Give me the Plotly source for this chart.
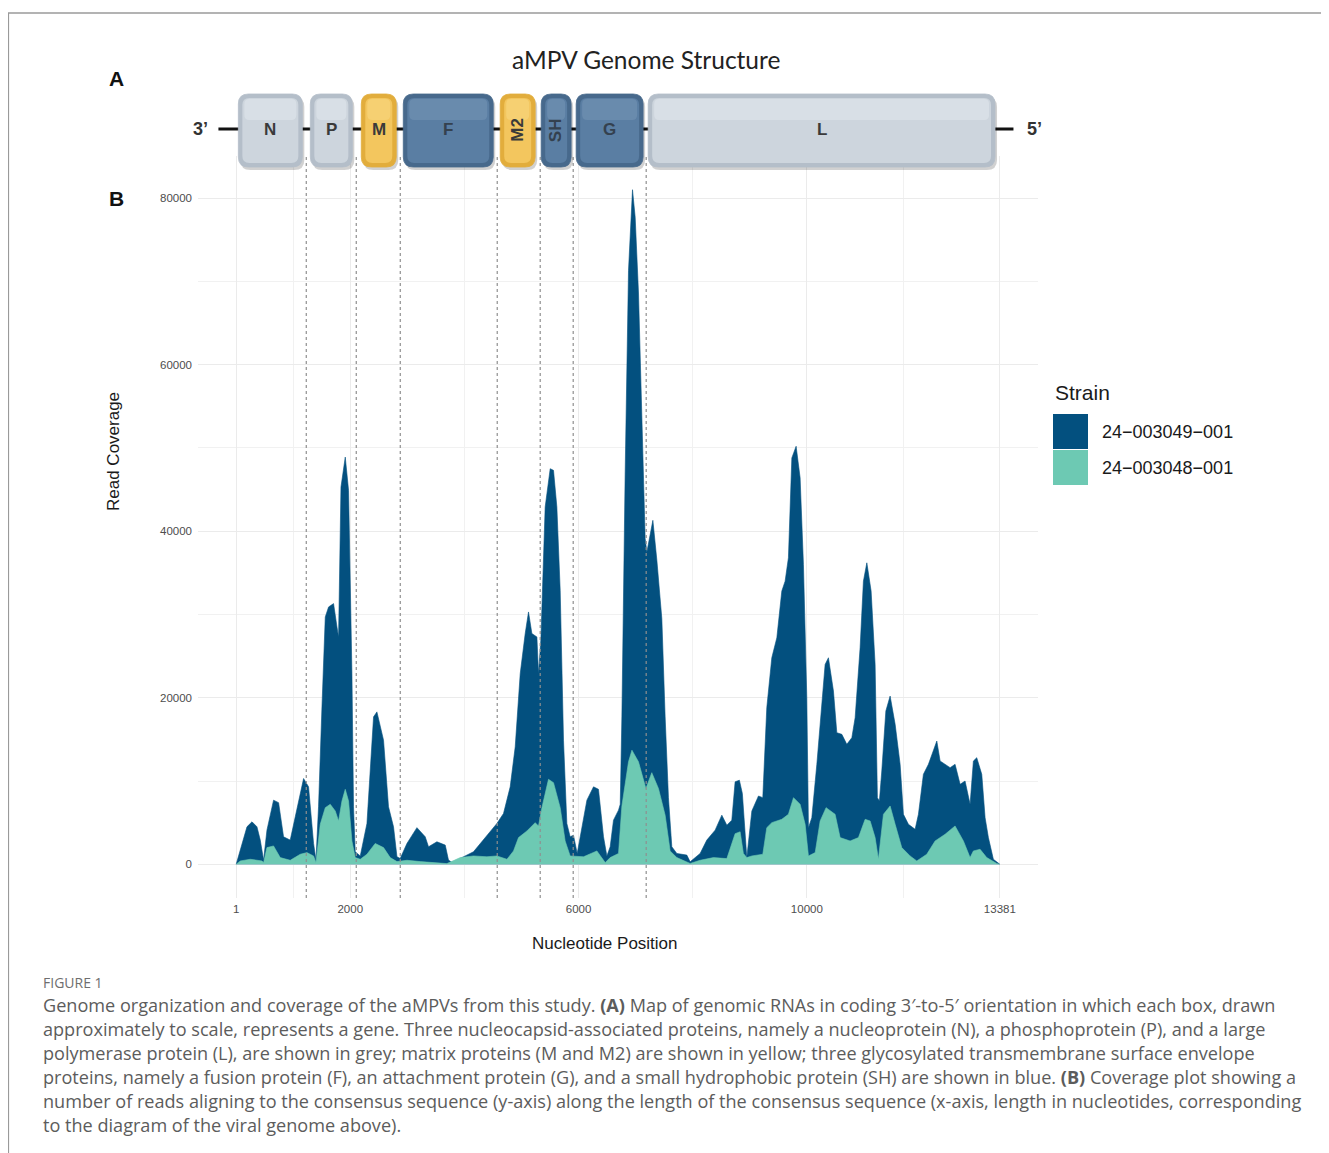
import plotly.graph_objects as go

# ---------------- data ----------------
# Read coverage, strain 24-003049-001 (position in nt, coverage)
pos_049 = [1, 190, 278, 365, 423, 481, 540, 656, 744, 831, 919, 948, 1036, 1182, 1269, 1357, 1399,
           1444, 1504, 1562, 1620, 1707, 1767, 1795, 1837, 1912, 1970, 2000, 2029, 2057, 2087, 2175,
           2292, 2408, 2467, 2583, 2670, 2758, 2818, 2875, 2993, 3168, 3313, 3371, 3518, 3664, 3721,
           3809, 3926, 4159, 4394, 4569, 4685, 4802, 4890, 4978, 5065, 5123, 5182, 5270, 5298, 5340,
           5415, 5503, 5561, 5620, 5678, 5736, 5795, 5853, 5911, 5976, 6146, 6262, 6349, 6437, 6496,
           6554, 6612, 6700, 6730, 6759, 6817, 6875, 6945, 6992, 7050, 7109, 7167, 7197, 7254, 7302,
           7372, 7459, 7517, 7575, 7634, 7722, 7897, 7955, 8130, 8247, 8393, 8510, 8598, 8685, 8743,
           8818, 8870, 8910, 8948, 9036, 9152, 9228, 9269, 9298, 9386, 9474, 9561, 9619, 9677, 9737,
           9812, 9882, 9940, 9999, 10028, 10087, 10175, 10233, 10320, 10378, 10466, 10525, 10613,
           10700, 10788, 10846, 10933, 10991, 11051, 11126, 11196, 11236, 11271, 11313, 11384, 11459,
           11547, 11634, 11692, 11780, 11897, 11955, 12042, 12130, 12217, 12277, 12335, 12422, 12510,
           12597, 12685, 12772, 12860, 12918, 12977, 13065, 13123, 13181, 13268, 13381]
cov_049 = [0, 4500, 5100, 4500, 2900, 500, 4100, 7700, 7400, 3300, 3000, 2900, 5700, 10300, 9300, 2500, 500,
           6900, 18900, 29700, 30900, 31300, 28500, 27300, 45300, 48900, 44900, 34900, 22900, 6900, 1500, 1000,
           4900, 17700, 18300, 14900, 6900, 4500, 900, 700, 2500, 4400, 3300, 2100, 2700, 2300, 500,
           100, 700, 1500, 3500, 4900, 6100, 9300, 14100, 22900, 27700, 30300, 27700, 27300, 22900, 27000,
           42900, 47500, 47300, 42900, 32900, 14900, 4900, 3300, 3500, 1300, 7700, 9300, 9000, 3300, 1000,
           2100, 5300, 6500, 7200, 17700, 47200, 71300, 81000, 77700, 68600, 55200, 39100, 37500, 39700, 41300,
           36500, 29500, 17700, 8000, 2100, 1300, 1100, 300, 1300, 2900, 4100, 5900, 4700, 5300, 9900,
           10100, 8500, 4000, 800, 6400, 8200, 8000, 14900, 18800, 24800, 27200, 32800, 34000, 36800, 48800,
           50200, 46400, 36000, 20000, 4400, 5600, 12000, 17200, 24000, 24800, 20800, 15800, 15600,
           14400, 15200, 17600, 26000, 34000, 36200, 32800, 24000, 8000, 7600, 11200, 18400, 20200,
           16800, 12000, 6000, 4800, 4200, 6000, 10800, 12000, 13600, 14800, 12400, 12000, 11600,
           12000, 9600, 10000, 7200, 12400, 12800, 10800, 5600, 3200, 600, 0]

# Read coverage, strain 24-003048-001
pos_048 = [1, 73, 248, 453, 481, 540, 656, 773, 948, 1124, 1241, 1357, 1399, 1474, 1562, 1649, 1737,
           1795, 1854, 1912, 1970, 2029, 2087, 2175, 2292, 2437, 2583, 2700, 2818, 2993, 3226, 3693,
           3926, 4159, 4394, 4569, 4745, 4860, 4948, 5095, 5240, 5298, 5358, 5473, 5561, 5678, 5765,
           5853, 6087, 6321, 6467, 6554, 6700, 6759, 6875, 6935, 7050, 7138, 7180, 7283, 7400, 7517,
           7605, 7722, 7955, 8130, 8363, 8598, 8743, 8831, 8888, 8948, 9036, 9228, 9298, 9386, 9561,
           9677, 9766, 9882, 9970, 10028, 10146, 10233, 10337, 10495, 10583, 10758, 10904, 11021,
           11109, 11196, 11254, 11342, 11459, 11547, 11663, 11809, 11926, 12101, 12247, 12422, 12597,
           12743, 12860, 12918, 13035, 13152, 13327, 13381]
cov_048 = [0, 400, 600, 400, 200, 2000, 2200, 800, 480, 1200, 1400, 1000, 200, 4800, 6800, 7200, 6400,
           5200, 7600, 9000, 7600, 2800, 800, 600, 1200, 2500, 2000, 800, 320, 480, 320, 80,
           800, 1000, 900, 1000, 600, 1600, 3200, 4000, 5000, 4600, 6800, 10200, 9800, 6800, 2800,
           1000, 900, 1600, 200, 800, 1300, 7000, 12300, 13700, 12300, 10200, 9100, 11000, 9100, 5900,
           1600, 800, 100, 480, 800, 680, 3680, 3900, 1300, 800, 1000, 1200, 4400, 5000, 5400,
           6000, 8000, 7200, 4800, 1000, 1400, 5200, 6800, 6000, 3200, 2800, 3200, 5400,
           5200, 3200, 600, 6000, 7000, 4800, 2000, 1000, 400, 1200, 2800, 3600, 4600,
           2800, 800, 1600, 1800, 800, 100, 0]

strains = ["24\u2212003049\u2212001", "24\u2212003048\u2212001"]
strain_colors = ["#03507f", "#6dc9b3"]

genes = ["N", "P", "M", "F", "M2", "SH", "G", "L"]
gene_start = [39, 1300, 2193, 2929, 4627, 5345, 5958, 7220]
gene_end = [1160, 2036, 2806, 4505, 5240, 5870, 7131, 13297]
gene_group = ["grey", "grey", "yellow", "blue", "yellow", "blue", "blue", "grey"]
gene_bounds = [1229, 2105, 2876, 4575, 5328, 5906, 7185]
backbone = [-310, 13620]

genome_len = 13381
x_ticks = [1, 2000, 6000, 10000, 13381]
x_minor = [1000.5, 4000, 8000, 11690.5]
y_ticks = [0, 20000, 40000, 60000, 80000]
y_minor = [10000, 30000, 50000, 70000]

caption_lines = [
    "Genome organization and coverage of the aMPVs from this study. <b>(A)</b> Map of genomic RNAs in coding 3\u2032-to-5\u2032 orientation in which each box, drawn",
    "approximately to scale, represents a gene. Three nucleocapsid-associated proteins, namely a nucleoprotein (N), a phosphoprotein (P), and a large",
    "polymerase protein (L), are shown in grey; matrix proteins (M and M2) are shown in yellow; three glycosylated transmembrane surface envelope",
    "proteins, namely a fusion protein (F), an attachment protein (G), and a small hydrophobic protein (SH) are shown in blue. <b>(B)</b> Coverage plot showing a",
    "number of reads aligning to the consensus sequence (y-axis) along the length of the consensus sequence (x-axis, length in nucleotides, corresponding",
    "to the diagram of the viral genome above).",
]

# ---------------- layout geometry ----------------
OFF = 8                      # page body margin
W, H = 1321, 1145
L, R, T, B = 190, 291, 148, 255
PW, PH = W - L - R, H - T - B


def px(x):  # window pixel -> paper
    return (x - OFF - L) / PW


def py(y):
    return 1 - (y - OFF - T) / PH


span = genome_len - 1
xr = [1 - 0.05 * span, genome_len + 0.05 * span]
ymax = max(cov_049)
yr = [-0.05 * ymax, ymax * 1.05]
ntpp = (xr[1] - xr[0]) / PW  # nt per pixel

SANS = "Liberation Sans, Arial, sans-serif"
CAP = "Open Sans, sans-serif"

fig = go.Figure()
fig.add_trace(go.Scatter(x=pos_049, y=cov_049, mode="lines", fill="tozeroy",
                         line=dict(width=0.6, color=strain_colors[0]), fillcolor=strain_colors[0],
                         name=strains[0], showlegend=False, hoverinfo="skip"))
fig.add_trace(go.Scatter(x=pos_048, y=cov_048, mode="lines", fill="tozeroy",
                         line=dict(width=0.6, color=strain_colors[1]), fillcolor=strain_colors[1],
                         name=strains[1], showlegend=False, hoverinfo="skip"))

shapes = []
for b in gene_bounds:
    shapes.append(dict(type="line", xref="x", yref="paper", x0=b, x1=b, y0=0, y1=1,
                       line=dict(color="#8f8f8f", width=1.2, dash="dot"), layer="above"))

shapes.append(dict(type="line", xref="x", yref="paper", x0=backbone[0], x1=backbone[1],
                   y0=py(129), y1=py(129), line=dict(color="#111111", width=3), layer="above"))


def rrect(x0, x1, y0, y1, r):
    rx, ry = r * ntpp, r / PH
    return (f"M {x0 + rx},{y0} L {x1 - rx},{y0} Q {x1},{y0} {x1},{y0 + ry} "
            f"L {x1},{y1 - ry} Q {x1},{y1} {x1 - rx},{y1} L {x0 + rx},{y1} "
            f"Q {x0},{y1} {x0},{y1 - ry} L {x0},{y0 + ry} Q {x0},{y0} {x0 + rx},{y0} Z")


palette = {
    "grey": ("#b4bec9", "#cdd5dd", "#e2e7ec", "#3a3a3a"),
    "yellow": ("#e2ad3c", "#f3c65e", "#f8d883", "#3a3a3a"),
    "blue": ("#47698c", "#5a7ea3", "#7696b6", "#34414f"),
}

box_top, box_bot = py(94), py(167)
annotations = []
for g, s, e, grp in zip(genes, gene_start, gene_end, gene_group):
    dark, main, light, tcol = palette[grp]
    shapes.append(dict(type="path", xref="x", yref="paper",
                       path=rrect(s + 2 * ntpp, e + 2 * ntpp, box_bot - 3 / PH, box_top - 3 / PH, 10),
                       fillcolor="rgba(0,0,0,0.18)", line=dict(width=0), layer="above"))
    shapes.append(dict(type="path", xref="x", yref="paper", path=rrect(s, e, box_bot, box_top, 10),
                       fillcolor=dark, line=dict(width=0.8, color=dark), layer="above"))
    shapes.append(dict(type="path", xref="x", yref="paper",
                       path=rrect(s + 4 * ntpp, e - 4 * ntpp, box_bot + 4 / PH, box_top - 4 / PH, 7),
                       fillcolor=main, line=dict(width=0), layer="above"))
    shapes.append(dict(type="path", xref="x", yref="paper",
                       path=rrect(s + 6 * ntpp, e - 6 * ntpp, box_top - 26 / PH, box_top - 5 / PH, 5),
                       fillcolor=light, opacity=0.55, line=dict(width=0), layer="above"))
    angle = -90 if g in ("M2", "SH") else 0
    annotations.append(dict(x=(s + e) / 2, y=py(130), xref="x", yref="paper", text=f"<b>{g}</b>",
                            showarrow=False, textangle=angle, xanchor="center", yanchor="middle",
                            font=dict(family=SANS, size=17, color=tcol)))

for i, c in enumerate(strain_colors):
    top = 414 + 36 * i
    shapes.append(dict(type="rect", xref="paper", yref="paper", x0=px(1053), x1=px(1088),
                       y0=py(top + 35), y1=py(top), fillcolor=c, line=dict(width=0)))
    annotations.append(dict(x=px(1100), y=py(top + 18), xref="paper", yref="paper", text=strains[i],
                            showarrow=False, xanchor="left", yanchor="middle",
                            font=dict(family=SANS, size=18, color="#1a1a1a")))
annotations.append(dict(x=px(1053), y=py(392), xref="paper", yref="paper", text="Strain",
                        showarrow=False, xanchor="left", yanchor="middle",
                        font=dict(family=SANS, size=21, color="#1a1a1a")))

# frame
shapes.append(dict(type="line", xref="paper", yref="paper", x0=px(8), x1=px(1330), y0=py(13), y1=py(13),
                   line=dict(color="#9a9a9a", width=1.5)))
shapes.append(dict(type="line", xref="paper", yref="paper", x0=px(8.5), x1=px(8.5), y0=py(13), y1=py(1153),
                   line=dict(color="#9a9a9a", width=1.2)))

texts = [
    dict(x=px(646), y=py(60), text="aMPV Genome Structure", font=dict(family="Lato, sans-serif", size=24.5, color="#222222")),
    dict(x=px(116), y=py(79), text="<b>A</b>", font=dict(family=SANS, size=21, color="#111111")),
    dict(x=px(116), y=py(199), text="<b>B</b>", font=dict(family=SANS, size=21, color="#111111")),
    dict(x=px(200), y=py(129), text="<b>3\u2019</b>", font=dict(family=SANS, size=18, color="#333333")),
    dict(x=px(1034), y=py(129), text="<b>5\u2019</b>", font=dict(family=SANS, size=18, color="#333333")),
    dict(x=px(113), y=py(452), text="Read Coverage", textangle=-90, font=dict(family=SANS, size=17, color="#1a1a1a")),
    dict(x=px(605), y=py(943), text="Nucleotide Position", font=dict(family=SANS, size=17, color="#1a1a1a")),
]
for a in texts:
    a.update(xref="paper", yref="paper", showarrow=False, xanchor="center", yanchor="middle")
annotations += texts

annotations.append(dict(x=px(41), y=py(982), xref="paper", yref="paper", text="FIGURE 1", showarrow=False,
                        xanchor="left", yanchor="middle", font=dict(family=CAP, size=14, color="#6e6e6e")))
for i, line in enumerate(caption_lines):
    annotations.append(dict(x=px(41), y=py(1005 + 24 * i), xref="paper", yref="paper", text=line,
                            showarrow=False, xanchor="left", yanchor="middle",
                            font=dict(family=CAP, size=18.1, color="#5c5c5c")))

fig.update_layout(
    width=W, height=H, margin=dict(l=L, r=R, t=T, b=B, autoexpand=False),
    paper_bgcolor="white", plot_bgcolor="white",
    shapes=shapes, annotations=annotations, showlegend=False,
    xaxis=dict(range=xr, tickmode="array", tickvals=x_ticks, ticktext=[str(v) for v in x_ticks],
               showgrid=True, gridcolor="#ebebeb", gridwidth=1.2, zeroline=False, showline=False, ticks="",
               tickfont=dict(family=SANS, size=11.5, color="#4d4d4d"), ticklabelstandoff=2,
               minor=dict(tickvals=x_minor, showgrid=True, gridcolor="#f1f1f1", gridwidth=1, ticks="")),
    yaxis=dict(range=yr, tickmode="array", tickvals=y_ticks, ticktext=[str(v) for v in y_ticks],
               showgrid=True, gridcolor="#ebebeb", gridwidth=1.2, zeroline=False, showline=False, ticks="",
               tickfont=dict(family=SANS, size=11.5, color="#4d4d4d"), ticklabelstandoff=5,
               minor=dict(tickvals=y_minor, showgrid=True, gridcolor="#f1f1f1", gridwidth=1, ticks="")),
)

fig.write_html("out.html")
